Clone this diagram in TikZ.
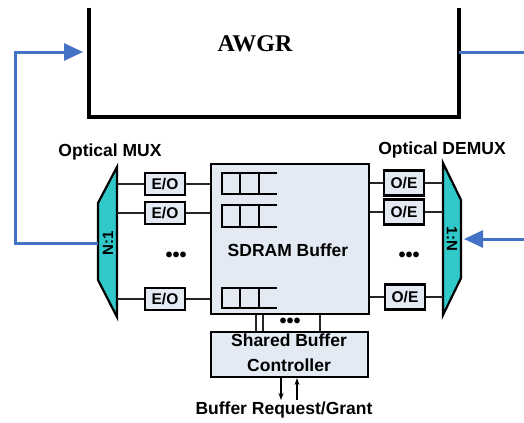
\documentclass[tikz,border=0pt]{standalone}
\usepackage{fontspec}
\setmainfont{Liberation Sans}
\newfontfamily\awgrfont{Liberation Serif}
\usetikzlibrary{arrows.meta}
\definecolor{muxteal}{RGB}{48,200,200}
\definecolor{boxfill}{RGB}{228,234,244}
\definecolor{linkblue}{RGB}{68,114,196}
\begin{document}
\begin{tikzpicture}[x=1bp,y=-1bp,
  wire/.style={draw=black!85, line width=1.8bp},
  eobox/.style={draw, line width=2bp, fill=boxfill, minimum width=40bp, minimum height=22bp, inner sep=0pt,
    font=\bfseries\fontsize{15.5bp}{15.5bp}\selectfont},
  oebox/.style={eobox, line width=2.8bp, minimum height=25bp},
  bigbox/.style={draw, line width=2.2bp, fill=boxfill, inner sep=0pt},
  queue/.style={line width=2.4bp},
  sfbig/.style={font=\bfseries\fontsize{17.5bp}{25bp}\selectfont, align=center, inner sep=0pt},
  dotsty/.style={font=\bfseries\fontsize{20bp}{20bp}\selectfont, inner sep=0pt},
  bl/.style={draw=linkblue, line width=3bp},
  blarrow/.style={bl, -{Triangle[length=19bp,width=17bp]}},
  muxshape/.style={draw, line width=2.2bp, fill=muxteal, line join=miter},
  smallarrow/.style={line width=1.2bp, -{Stealth[length=7bp,width=5bp]}}
]
\useasboundingbox (0,0) rectangle (524,422);

% AWGR
\node[minimum width=370bp, minimum height=109bp, inner sep=0pt] (awgr) at (274,62.5) {};
\draw[line width=3.5bp] (awgr.north west) -- (awgr.south west) -- (awgr.south east) -- (awgr.north east);
\node[font=\awgrfont\bfseries\fontsize{24bp}{24bp}\selectfont, inner sep=0pt] (awgrlbl) at (255,44) {AWGR};
\coordinate (awgrIn) at (83,52);
\coordinate (awgrOut) at (459,52);

% labels
\node[sfbig] (muxlbl) at (110,152) {Optical MUX};
\node[sfbig] (demuxlbl) at (442,150) {Optical DEMUX};

% MUX (N:1)
\draw[muxshape] (98,203) -- (117,167) -- (117,317) -- (98,280) -- cycle;
\node[rotate=90, font=\bfseries\fontsize{15bp}{15bp}\selectfont, inner sep=0pt] (muxtxt) at (108,243) {N:1};
\coordinate (muxR) at (117,242);
\coordinate (muxL) at (98,243);

% DEMUX (1:N)
\draw[muxshape] (443,163) -- (461,200) -- (461,278) -- (443,315) -- cycle;
\node[rotate=-90, font=\bfseries\fontsize{15bp}{15bp}\selectfont, inner sep=0pt] (demuxtxt) at (452,239) {1:N};
\coordinate (demuxL) at (443,240);
\coordinate (demuxR) at (464,239);

% SDRAM buffer
\node[bigbox, minimum width=158bp, minimum height=150bp] (sdram) at (290,239) {};
\node[sfbig] (sdramlbl) at (288,250) {SDRAM Buffer};
\foreach \t/\b in {173/194, 205/227, 288/308}{
  \draw[queue] (277,\t) -- (222,\t) -- (222,\b) -- (277,\b);
  \draw[queue] (240,\t) -- (240,\b);
  \draw[queue] (259,\t) -- (259,\b);
}

% E/O converters
\node[eobox] (eo1) at (165,184) {E/O};
\node[eobox] (eo2) at (165,213) {E/O};
\node[eobox] (eo3) at (165,299) {E/O};
\foreach \n in {eo1,eo2,eo3}{
  \draw[wire] (\n.west -| muxR) -- (\n.west);
  \draw[wire] (\n.east) -- (\n.east -| sdram.west);
}
\node[dotsty] (dotsL) at (176,257) {•••};

% O/E converters
\node[oebox] (oe1) at (404,183) {O/E};
\node[oebox] (oe2) at (404,212) {O/E};
\node[oebox] (oe3) at (405,297) {O/E};
\foreach \n in {oe1,oe2,oe3}{
  \draw[wire] (\n.west -| sdram.east) -- (\n.west);
  \draw[wire] (\n.east) -- (\n.east -| demuxL);
}
\node[dotsty] (dotsR) at (409,257) {•••};

% Controller
\node[bigbox, minimum width=157bp, minimum height=45bp] (ctrl) at (289.5,354.5) {};
\node[sfbig] (ctrllbl) at (289,353) {Shared Buffer\\Controller};
\foreach \x in {256,263,320}{
  \draw[wire] (sdram.south -| \x,0) -- (ctrl.north -| \x,0);
}
\node[dotsty] (dotsC) at (290,323) {•••};

% request / grant
\coordinate (reqEnd) at (281,400);
\coordinate (grStart) at (297,400);
\draw[smallarrow] (ctrl.south -| reqEnd) -- (reqEnd);
\draw[smallarrow] (grStart) -- (ctrl.south -| grStart);
\node[sfbig] (rglbl) at (284,410) {Buffer Request/Grant};

% blue optical links
\draw[blarrow] (muxL) -- (15,243) |- (awgrIn);
\draw[bl] (awgrOut) -- (524,52);
\draw[blarrow] (524,239) -- (demuxR);
\end{tikzpicture}
\end{document}
